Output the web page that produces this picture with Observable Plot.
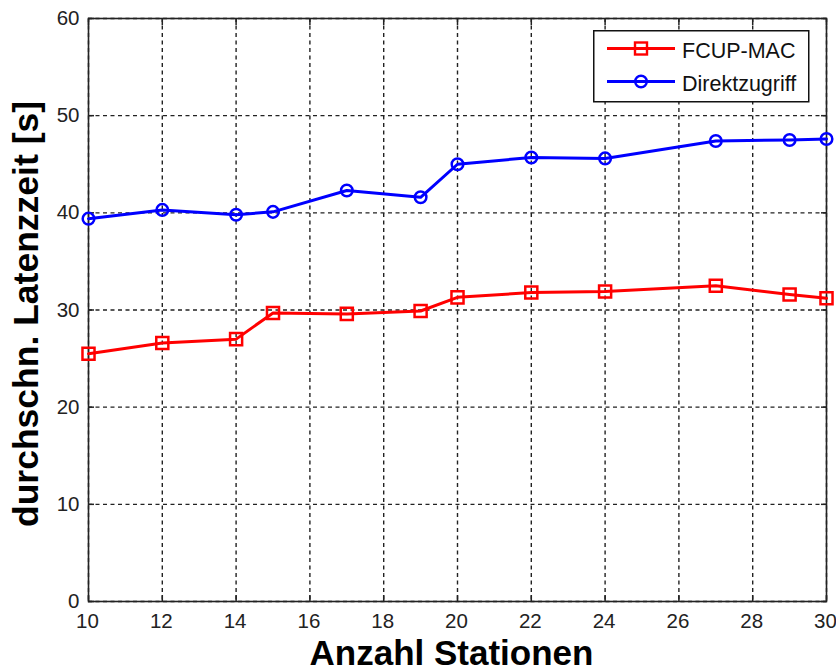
<!DOCTYPE html>
<html>
<head>
<meta charset="utf-8">
<script src="https://cdn.jsdelivr.net/npm/d3@7"></script>
<script src="https://cdn.jsdelivr.net/npm/@observablehq/plot@0.6"></script>
<style>
  html, body { margin: 0; padding: 0; background: #fff; }
  #wrap { position: relative; width: 836px; height: 671px; }
  #legend { position: absolute; left: 593px; top: 30px; }
</style>
</head>
<body>
<div id="wrap"></div>
<script>
const stations = [10, 12, 14, 15, 17, 19, 20, 22, 24, 27, 29, 30];
const fcupMac = [25.5, 26.6, 27.0, 29.7, 29.6, 29.9, 31.3, 31.8, 31.9, 32.5, 31.6, 31.2];
const direkt = [39.4, 40.3, 39.8, 40.1, 42.3, 41.6, 45.0, 45.7, 45.6, 47.4, 47.5, 47.6];
const seriesNames = ["FCUP-MAC", "Direktzugriff"];
const seriesColors = ["#ff0000", "#0000ff"];
const xTicks = [10, 12, 14, 16, 18, 20, 22, 24, 26, 28, 30];
const yTicks = [0, 10, 20, 30, 40, 50, 60];
const xTitle = "Anzahl Stationen";
const yTitle = "durchschn. Latenzzeit [s]";

const fcupData = stations.map((x, i) => ({x, y: fcupMac[i]}));
const direktData = stations.map((x, i) => ({x, y: direkt[i]}));

const font = "Liberation Sans, Arial, Helvetica, sans-serif";

const chart = Plot.plot({
  width: 836,
  height: 671,
  marginLeft: 88,
  marginRight: 10,
  marginTop: 18,
  marginBottom: 70,
  style: {fontFamily: font, background: "#fff", color: "#111", overflow: "visible"},
  x: {domain: [10, 30], ticks: xTicks},
  y: {domain: [0, 60], ticks: yTicks},
  marks: [
    Plot.gridX(xTicks, {stroke: "#222", strokeOpacity: 1, strokeWidth: 1.4, strokeDasharray: "4,3.5"}),
    Plot.gridY(yTicks, {stroke: "#222", strokeOpacity: 1, strokeWidth: 1.4, strokeDasharray: "4,3.5"}),
    Plot.axisX(xTicks, {anchor: "bottom", tickSize: 0, tickPadding: 12, fontSize: 20.5, dx: -1, label: null, fill: "#222"}),
    Plot.axisY(yTicks, {anchor: "left", tickSize: 0, tickPadding: 9, fontSize: 20.5, label: null, fill: "#222"}),
    Plot.axisX(xTicks, {anchor: "bottom", tickSize: -6, text: null, label: null, stroke: "#222", strokeWidth: 1.5}),
    Plot.axisX(xTicks, {anchor: "top", tickSize: -6, text: null, label: null, stroke: "#222", strokeWidth: 1.5}),
    Plot.axisY(yTicks, {anchor: "left", tickSize: -6, text: null, label: null, stroke: "#222", strokeWidth: 1.5}),
    Plot.axisY(yTicks, {anchor: "right", tickSize: -6, text: null, label: null, stroke: "#222", strokeWidth: 1.5}),
    Plot.frame({stroke: "#222", strokeWidth: 1.6}),
    Plot.line(fcupData, {x: "x", y: "y", stroke: seriesColors[0], strokeWidth: 3}),
    Plot.line(direktData, {x: "x", y: "y", stroke: seriesColors[1], strokeWidth: 3}),
    Plot.dot(fcupData, {x: "x", y: "y", symbol: "square", r: 6.8, stroke: seriesColors[0], strokeWidth: 2.5, fill: "none"}),
    Plot.dot(direktData, {x: "x", y: "y", symbol: "circle", r: 5.8, stroke: seriesColors[1], strokeWidth: 2.5, fill: "none"}),
    Plot.text([xTitle], {frameAnchor: "bottom", lineAnchor: "bottom", dy: 63, dx: -6, fontSize: 35, fontWeight: "bold", fill: "#000"}),
    Plot.text([yTitle], {frameAnchor: "left", textAnchor: "middle", lineAnchor: "bottom", rotate: -90, dx: -51, dy: 4, fontSize: 35.5, fontWeight: "bold", fill: "#000"})
  ]
});

const wrap = document.getElementById("wrap");
wrap.appendChild(chart);

// Legend
const ns = "http://www.w3.org/2000/svg";
const leg = document.createElementNS(ns, "svg");
leg.setAttribute("id", "legend");
leg.setAttribute("width", 217);
leg.setAttribute("height", 73);
leg.style.position = "absolute";
leg.style.left = "593px";
leg.style.top = "30px";
leg.style.fontFamily = font;
let html = `<rect x="0.75" y="0.75" width="215" height="71" fill="#fff" stroke="#111" stroke-width="1.5"/>`;
const rows = [18.5, 51.5];
seriesNames.forEach((name, i) => {
  const cy = rows[i];
  html += `<line x1="14" x2="82" y1="${cy}" y2="${cy}" stroke="${seriesColors[i]}" stroke-width="2.8"/>`;
  if (i === 0) {
    html += `<rect x="42" y="${cy - 6}" width="12" height="12" fill="none" stroke="${seriesColors[i]}" stroke-width="2.4"/>`;
  } else {
    html += `<circle cx="48" cy="${cy}" r="5.8" fill="none" stroke="${seriesColors[i]}" stroke-width="2.4"/>`;
  }
  html += `<text x="89" y="${cy + 9.5}" font-size="21.5" fill="#111">${name}</text>`;
});
leg.innerHTML = html;
wrap.appendChild(leg);
</script>
</body>
</html>
